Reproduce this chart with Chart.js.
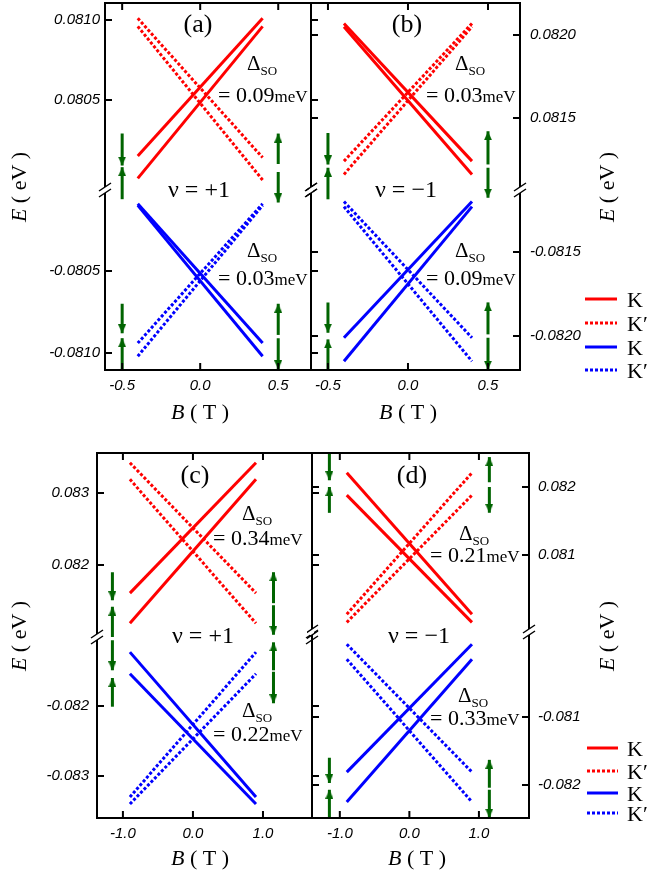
<!DOCTYPE html>
<html>
<head>
<meta charset="utf-8">
<script src="https://cdn.jsdelivr.net/npm/chart.js@4.4.0/dist/chart.umd.min.js"></script>
<style>
body { margin: 0; background: #fff; }
#wrap { position: relative; width: 648px; height: 874px; overflow: hidden; background: #fff; }
canvas { position: absolute; }
</style>
</head>
<body>
<div id="wrap">
<canvas id="pa" width="322" height="430" style="left:0px;top:0px"></canvas>
<canvas id="pb" width="342" height="430" style="left:306px;top:0px"></canvas>
<canvas id="pc" width="320" height="434" style="left:0px;top:440px"></canvas>
<canvas id="pd" width="341" height="434" style="left:307px;top:440px"></canvas>
</div>
<script>
// B (T) where the level lines start and stop
var endsAB = [-0.4, 0.4];
var endsCD = [-0.9, 0.9];

// E (eV) at the two ends of each line: [at left end, at right end]
// (a)
var aK_up  = [[0.08015, 0.08101], [0.08001, 0.08096]];
var aKp_up = [[0.08101, 0.08014], [0.08096, 0.08000]];
var aK_dn  = [[-0.08009, -0.08094], [-0.08010, -0.08102]];
var aKp_dn = [[-0.08094, -0.08009], [-0.08102, -0.08010]];
// (b)
var bK_up  = [[0.08207, 0.08124], [0.08205, 0.08116]];
var bKp_up = [[0.08124, 0.08207], [0.08116, 0.08205]];
var bK_dn  = [[-0.08201, -0.08120], [-0.08215, -0.08123]];
var bKp_dn = [[-0.08120, -0.08201], [-0.08123, -0.08215]];
// (c)
var cK_up  = [[0.08161, 0.08342], [0.08119, 0.08319]];
var cKp_up = [[0.08342, 0.08161], [0.08319, 0.08119]];
var cK_dn  = [[-0.08123, -0.08330], [-0.08154, -0.08340]];
var cKp_dn = [[-0.08330, -0.08123], [-0.08340, -0.08154]];
// (d)
var dK_up  = [[0.08221, 0.08013], [0.08188, 0.08001]];
var dKp_up = [[0.08013, 0.08221], [0.08001, 0.08188]];
var dK_dn  = [[-0.08181, -0.07993], [-0.08225, -0.08015]];
var dKp_dn = [[-0.07993, -0.08181], [-0.08015, -0.08225]];

// spin arrows: [B, tail E, tip E, axis]
var aSpin = [
  [-0.5, 0.08029, 0.08009, 't'], [-0.5, 0.07988, 0.08008, 't'],
  [-0.5, -0.08070, -0.08088, 'b'], [-0.5, -0.08110, -0.08091, 'b'],
  [0.5, 0.08010, 0.08029, 't'], [0.5, 0.08005, 0.07986, 't'],
  [0.5, -0.08089, -0.08070, 'b'], [0.5, -0.08091, -0.08110, 'b']
];
var bSpin = [
  [-0.5, 0.08141, 0.08122, 't'], [-0.5, 0.08101, 0.08120, 't'],
  [-0.5, -0.08180, -0.08198, 'b'], [-0.5, -0.08220, -0.08202, 'b'],
  [0.5, 0.08122, 0.08142, 't'], [0.5, 0.08120, 0.08102, 't'],
  [0.5, -0.08199, -0.08180, 'b'], [0.5, -0.08201, -0.08220, 'b']
];
var cSpin = [
  [-1.15, 0.08190, 0.08151, 't'], [-1.15, 0.08100, 0.08142, 't'],
  [-1.15, -0.08106, -0.08149, 'b'], [-1.15, -0.08201, -0.08160, 'b'],
  [1.15, 0.08147, 0.08190, 't'], [1.15, 0.08144, 0.08103, 't'],
  [1.15, -0.08149, -0.08109, 'b'], [1.15, -0.08151, -0.08196, 'b']
];
var dSpin = [
  [-1.15, 0.08250, 0.08210, 't'], [-1.15, 0.08162, 0.08200, 't'],
  [-1.15, -0.08160, -0.08197, 'b'], [-1.15, -0.08248, -0.08207, 'b'],
  [1.15, 0.08207, 0.08244, 't'], [1.15, 0.08200, 0.08162, 't'],
  [1.15, -0.08204, -0.08163, 'b'], [1.15, -0.08207, -0.08248, 'b']
];

// axes: ticks and ranges
var xTicksAB = [-0.5, 0, 0.5];
var xTicksCD = [-1, 0, 1];
var aXRange = [-0.61, 0.71], bXRange = [-0.606, 0.70];
var cXRange = [-1.37, 1.70], dXRange = [-1.40, 1.72];
var aYtTicks = [0.0805, 0.0810], aYtRange = [0.0799375, 0.081106];
var aYbTicks = [-0.0810, -0.0805], aYbRange = [-0.081104, -0.080006];
var bYtTicks = [0.0815, 0.0820], bYtRange = [0.081066, 0.082193];
var bYbTicks = [-0.0820, -0.0815], bYbRange = [-0.082202, -0.081131];
var cYtTicks = [0.082, 0.083], cYtRange = [0.081, 0.083556];
var cYbTicks = [-0.083, -0.082], cYbRange = [-0.0836, -0.081014];
var dYtTicks = [0.081, 0.082], dYtRange = [0.079868, 0.0825];
var dYbTicks = [-0.082, -0.081], dYbRange = [-0.082485, -0.07975];

// Delta_SO values written in the panels (a up, a down, b up, b down, ...)
var dsoText = ['0.09', '0.03', '0.03', '0.09', '0.34', '0.22', '0.21', '0.33'];
var legendLabels = ['K', 'K\u2032', 'K', 'K\u2032'];

var RED = '#ff0000', BLUE = '#0000ff', GREEN = '#006400';
var DASH = [3, 2];

function F(size, style) { return (style ? style + ' ' : '') + size + "px 'Liberation Serif'"; }
function dso() { return [['\u0394', F(21)], ['SO', F(13), 5]]; }
function eq(v) { return [['= ' + v, F(22)], ['meV', F(17)]]; }

// arrow head, its tip sits at the centre of this little canvas
var head = document.createElement('canvas');
head.width = 8; head.height = 18;
(function () {
  var g = head.getContext('2d');
  g.fillStyle = GREEN;
  g.beginPath(); g.moveTo(4, 9); g.lineTo(8, 18); g.lineTo(0, 18); g.closePath(); g.fill();
})();

function rich(c, x, y, parts, center) {
  var w = 0;
  parts.forEach(function (q) { c.font = q[1]; w += c.measureText(q[0]).width; });
  var cx = center ? x - w / 2 : x;
  parts.forEach(function (q) {
    c.font = q[1];
    c.fillText(q[0], cx, y + (q[2] || 0));
    cx += c.measureText(q[0]).width;
  });
}

// frame, inward ticks, axis break, labels and legend
function deco(p) {
  return {
    id: 'deco',
    afterDraw: function (chart) {
      var c = chart.ctx, a = chart.chartArea, xs = chart.scales.x;
      var yt = chart.scales.yt, yb = chart.scales.yb;
      c.save();
      c.strokeStyle = '#000';
      c.lineWidth = 2;
      c.strokeRect(a.left, a.top, a.right - a.left, a.bottom - a.top);
      c.beginPath();
      xs.ticks.forEach(function (t) {
        var x = xs.getPixelForValue(t.value);
        c.moveTo(x, a.top); c.lineTo(x, a.top + 7);
        c.moveTo(x, a.bottom); c.lineTo(x, a.bottom - 7);
      });
      [yt, yb].forEach(function (s) {
        s.ticks.forEach(function (t) {
          var y = s.getPixelForValue(t.value);
          c.moveTo(a.left, y); c.lineTo(a.left + 7 * p.tl, y);
          c.moveTo(a.right, y); c.lineTo(a.right + 7 * p.tr, y);
        });
      });
      c.stroke();
      // axis break
      var yk = yt.bottom;
      [a.left, a.right].forEach(function (x) {
        c.fillStyle = '#fff';
        c.fillRect(x - 2, yk - 3, 4, 6);
        c.lineWidth = 1.5;
        c.beginPath();
        [-3, 3].forEach(function (d) { c.moveTo(x - 6, yk + d + 4); c.lineTo(x + 6, yk + d - 4); });
        c.stroke();
      });
      // texts
      c.fillStyle = '#000';
      c.textAlign = 'left';
      c.textBaseline = 'alphabetic';
      p.notes.forEach(function (n) { rich(c, n[0] - p.left, n[1] - p.top, n[2], n[3]); });
      rich(c, p.xt[0] - p.left, p.xt[1] - p.top, [['B', F(22, 'italic')], [' ( T )', F(22)]], true);
      c.save();
      c.translate(p.yt[0] - p.left, p.yt[1] - p.top);
      c.rotate(-Math.PI / 2);
      c.textBaseline = 'middle';
      rich(c, 0, 0, [['E', F(22, 'italic')], [' ( eV )', F(22)]], true);
      c.restore();
      if (p.legend) {
        var cols = [RED, RED, BLUE, BLUE];
        p.legend.ys.forEach(function (y, i) {
          c.strokeStyle = cols[i];
          c.lineWidth = 3;
          c.setLineDash(i % 2 ? DASH : []);
          c.beginPath();
          c.moveTo(p.legend.x0 - p.left, y - p.top);
          c.lineTo(p.legend.x1 - p.left, y - p.top);
          c.stroke();
          c.setLineDash([]);
          c.textBaseline = 'alphabetic';
          c.font = F(22);
          c.fillText(legendLabels[i], p.legend.tx - p.left, y - p.top + 8);
        });
      }
      c.restore();
    }
  };
}

function yScale(range, ticks, dec, weight, p) {
  return {
    type: 'linear', axis: 'y', position: p.side, stack: 'e', stackWeight: weight,
    min: range[0], max: range[1],
    afterBuildTicks: function (s) { s.ticks = ticks.map(function (v) { return {value: v}; }); },
    afterFit: function (s) { s.width = p.yw; s.paddingTop = 0; s.paddingBottom = 0; },
    grid: {display: false, drawTicks: false},
    border: {display: false},
    ticks: {
      padding: p.tpad, color: '#000',
      font: {family: 'Liberation Sans', size: 15, style: 'italic'},
      callback: function (v) { return v.toFixed(dec); }
    }
  };
}

function panel(p) {
  var ds = [];
  function addLines(vals, axis, color, dash) {
    vals.forEach(function (v) {
      ds.push({
        data: [{x: p.ends[0], y: v[0]}, {x: p.ends[1], y: v[1]}],
        yAxisID: axis, borderColor: color, borderWidth: 3, borderDash: dash,
        pointRadius: 0, fill: false
      });
    });
  }
  addLines(p.kUp, 'yt', RED, []);
  addLines(p.kpUp, 'yt', RED, DASH);
  addLines(p.kDn, 'yb', BLUE, []);
  addLines(p.kpDn, 'yb', BLUE, DASH);
  p.spins.forEach(function (s) {
    ds.push({
      data: [{x: s[0], y: s[1]}, {x: s[0], y: s[2]}],
      yAxisID: s[3] === 't' ? 'yt' : 'yb',
      borderColor: GREEN, backgroundColor: GREEN, borderWidth: 3,
      pointRadius: [0, 4], pointStyle: head, pointRotation: [0, s[2] > s[1] ? 0 : 180],
      fill: false, clip: false
    });
  });

  var scales = {
    x: {
      type: 'linear', min: p.xRange[0], max: p.xRange[1],
      afterBuildTicks: function (s) { s.ticks = p.xTicks.map(function (v) { return {value: v}; }); },
      afterFit: function (s) { s.height = p.xh; s.paddingLeft = 0; s.paddingRight = 0; },
      grid: {display: false, drawTicks: false},
      border: {display: false},
      ticks: {
        padding: 7, color: '#000', maxRotation: 0,
        font: {family: 'Liberation Sans', size: 15, style: 'italic'},
        callback: function (v) { return v.toFixed(1); }
      }
    }
  };
  var top = yScale(p.ytRange, p.ytTicks, p.dec, p.wt, p);
  var bot = yScale(p.ybRange, p.ybTicks, p.dec, p.wb, p);
  // left stacks put the later axis on top, right stacks the earlier one
  if (p.side === 'left') { scales.yb = bot; scales.yt = top; }
  else { scales.yt = top; scales.yb = bot; }

  new Chart(document.getElementById(p.id), {
    type: 'line',
    data: {datasets: ds},
    options: {
      responsive: false,
      animation: false,
      events: [],
      layout: {padding: p.pad, autoPadding: false},
      plugins: {legend: {display: false}, tooltip: {enabled: false}},
      scales: scales
    },
    plugins: [deco(p)]
  });
}

panel({
  id: 'pa', left: 0, top: 0, side: 'left', yw: 105, tpad: 5, xh: 60, wt: 187, wb: 180, tl: 1, tr: 1,
  pad: {left: 0, right: 11, top: 3, bottom: 0}, dec: 4,
  ends: endsAB, kUp: aK_up, kpUp: aKp_up, kDn: aK_dn, kpDn: aKp_dn, spins: aSpin,
  xTicks: xTicksAB, xRange: aXRange, ytTicks: aYtTicks, ytRange: aYtRange, ybTicks: aYbTicks, ybRange: aYbRange,
  xt: [200, 419], yt: [20, 187],
  notes: [[198, 32, [['(a)', F(26)]], true], [247, 70, dso()], [218, 102, eq(dsoText[0])],
          [168, 197, [['\u03bd = +1', F(24)]]], [247, 257, dso()], [218, 285, eq(dsoText[1])]]
});
panel({
  id: 'pb', left: 306, top: 0, side: 'right', yw: 128, tpad: 10, xh: 60, wt: 187, wb: 180, tl: 1, tr: -1,
  pad: {left: 5, right: 0, top: 3, bottom: 0}, dec: 4,
  ends: endsAB, kUp: bK_up, kpUp: bKp_up, kDn: bK_dn, kpDn: bKp_dn, spins: bSpin,
  xTicks: xTicksAB, xRange: bXRange, ytTicks: bYtTicks, ytRange: bYtRange, ybTicks: bYbTicks, ybRange: bYbRange,
  xt: [408, 419], yt: [608, 187],
  notes: [[407, 32, [['(b)', F(26)]], true], [455, 70, dso()], [426, 102, eq(dsoText[2])],
          [375, 197, [['\u03bd = \u22121', F(24)]]], [455, 257, dso()], [426, 285, eq(dsoText[3])]],
  legend: {x0: 585, x1: 617, tx: 627, ys: [299, 323, 347, 370]}
});
panel({
  id: 'pc', left: 0, top: 440, side: 'left', yw: 97, tpad: 8, xh: 56, wt: 184, wb: 181, tl: 1, tr: 1,
  pad: {left: 0, right: 8, top: 13, bottom: 0}, dec: 3,
  ends: endsCD, kUp: cK_up, kpUp: cKp_up, kDn: cK_dn, kpDn: cKp_dn, spins: cSpin,
  xTicks: xTicksCD, xRange: cXRange, ytTicks: cYtTicks, ytRange: cYtRange, ybTicks: cYbTicks, ybRange: cYbRange,
  xt: [200, 865], yt: [20, 636],
  notes: [[195, 483, [['(c)', F(26)]], true], [242, 520, dso()], [213, 545, eq(dsoText[4])],
          [172, 643, [['\u03bd = +1', F(24)]]], [242, 717, dso()], [213, 741, eq(dsoText[5])]]
});
panel({
  id: 'pd', left: 307, top: 440, side: 'right', yw: 119, tpad: 9, xh: 56, wt: 179, wb: 186, tl: 1, tr: -1,
  pad: {left: 5, right: 0, top: 13, bottom: 0}, dec: 3,
  ends: endsCD, kUp: dK_up, kpUp: dKp_up, kDn: dK_dn, kpDn: dKp_dn, spins: dSpin,
  xTicks: xTicksCD, xRange: dXRange, ytTicks: dYtTicks, ytRange: dYtRange, ybTicks: dYbTicks, ybRange: dYbRange,
  xt: [417, 865], yt: [608, 636],
  notes: [[412, 483, [['(d)', F(26)]], true], [459, 540, dso()], [430, 562, eq(dsoText[6])],
          [388, 643, [['\u03bd = \u22121', F(24)]]], [458, 702, dso()], [430, 725, eq(dsoText[7])]],
  legend: {x0: 587, x1: 618, tx: 627, ys: [748, 771, 793, 813]}
});
</script>
</body>
</html>
